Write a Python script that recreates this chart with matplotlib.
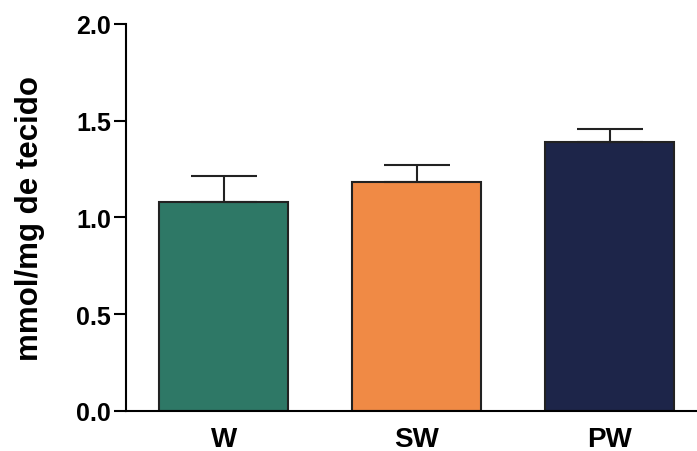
# Bar chart: mmol/mg de tecido per group

import numpy as np
import matplotlib.pyplot as plt

plt.rcParams['font.family'] = ['Liberation Sans', 'DejaVu Sans']
plt.rcParams['font.weight'] = 'bold'

# Data
groups = ["W", "SW", "PW"]
means = [1.08, 1.18, 1.39]
errors = [0.135, 0.09, 0.065]
colors = ["#2e7866", "#f08a45", "#1d2549"]

fig = plt.figure(figsize=(6.97, 4.52), dpi=100)
ax = fig.add_axes([0.181, 0.089, 0.819, 0.856])

x = np.arange(len(groups))
ax.bar(x, means, width=0.67, color=colors, edgecolor="#222222", linewidth=1.5,
       yerr=[np.zeros(len(errors)), errors], capsize=24,
       error_kw=dict(ecolor="#222222", elinewidth=1.5, capthick=1.5))

ax.set_xlim(-0.505, 2.453)
ax.set_ylim(0, 2.0)
ax.set_yticks([0.0, 0.5, 1.0, 1.5, 2.0])
ax.set_yticklabels(["0.0", "0.5", "1.0", "1.5", "2.0"])
ax.set_xticks(x)
ax.set_xticklabels(groups)

ax.spines["top"].set_visible(False)
ax.spines["right"].set_visible(False)
ax.spines["left"].set_linewidth(1.5)
ax.spines["bottom"].set_linewidth(1.5)
ax.tick_params(axis="y", length=9, width=1.5, labelsize=18, pad=2)
ax.tick_params(axis="x", length=0, labelsize=20, pad=11)

ax.set_ylabel("mmol/mg de tecido", fontsize=22.5, fontweight="bold", labelpad=22)

plt.savefig("out.png", dpi=100)
